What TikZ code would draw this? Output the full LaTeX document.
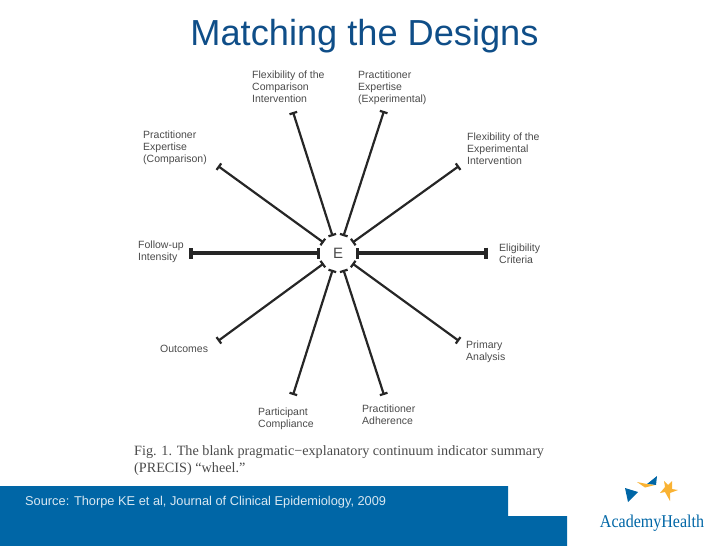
\documentclass[tikz,border=0pt]{standalone}
\usepackage{fontspec}
\setmainfont{Liberation Sans}
\newfontfamily\captionfont{Liberation Serif}
\newfontfamily\logofont[FakeStretch=0.89]{Liberation Serif}
\usetikzlibrary{arrows.meta}
\definecolor{ahblue}{HTML}{0066A6}
\definecolor{ahgold}{HTML}{F9B233}
\definecolor{titleblue}{HTML}{0F4E88}
\definecolor{labelgray}{HTML}{4A4A4A}
\tikzset{spoke/.style={line width=2.2pt,draw=black!85,{Bar[width=8pt,length=0.8pt]}-{Bar[width=8pt,length=0.8pt]},shorten <=-1pt}}
\tikzset{spokethick/.style={spoke,line width=3.6pt,{Bar[width=11pt,length=1pt]}-{Bar[width=11pt,length=1pt]}}}
\tikzset{spokelabel/.style={anchor=north west,align=left,inner sep=0pt,text=labelgray,
font=\fontsize{10.5}{12}\selectfont}}

\begin{document}
\begin{tikzpicture}[x=1pt,y=-1pt]
    \useasboundingbox (0,0) rectangle (728,546);

    \node[text=titleblue,font=\fontsize{36.2}{40}\selectfont,inner sep=0pt] (title) at (364.5,36) {Matching the Designs};

    % the wheel
    \node[circle,minimum size=37pt,inner sep=0pt,text=labelgray,font=\fontsize{15}{15}\selectfont] (hub) at (338,253) {E};

    \coordinate (flexcompend) at (293,112);
    \coordinate (pracexpend) at (384,111);
    \coordinate (flexexpend) at (459,166);
    \coordinate (eligend) at (488,253);
    \coordinate (primend) at (459,341);
    \coordinate (adhend) at (384,395);
    \coordinate (compend) at (293,395);
    \coordinate (outend) at (218,341);
    \coordinate (followend) at (189,253);
    \coordinate (praccompend) at (218,166);

    \draw[spoke] (hub) -- (flexcompend);
    \draw[spoke] (hub) -- (pracexpend);
    \draw[spoke] (hub) -- (flexexpend);
    \draw[spokethick] (hub) -- (eligend);
    \draw[spoke] (hub) -- (primend);
    \draw[spoke] (hub) -- (adhend);
    \draw[spoke] (hub) -- (compend);
    \draw[spoke] (hub) -- (outend);
    \draw[spokethick] (hub) -- (followend);
    \draw[spoke] (hub) -- (praccompend);

    \node[spokelabel] (flexcomp) at (252,71) {Flexibility of the\\Comparison\\Intervention};
    \node[spokelabel] (pracexp) at (358,71) {Practitioner\\Expertise\\(Experimental)};
    \node[spokelabel] (flexexp) at (467,133) {Flexibility of the\\Experimental\\Intervention};
    \node[spokelabel] (praccomp) at (143,131) {Practitioner\\Expertise\\(Comparison)};
    \node[spokelabel] (follow) at (138,241) {Follow-up\\Intensity};
    \node[spokelabel] (elig) at (499,244) {Eligibility\\Criteria};
    \node[spokelabel] (out) at (160,345) {Outcomes};
    \node[spokelabel] (prim) at (466,341) {Primary\\Analysis};
    \node[spokelabel] (comp) at (258,408) {Participant\\Compliance};
    \node[spokelabel] (adh) at (362,405) {Practitioner\\Adherence};

    \node[anchor=north west,align=left,inner sep=0pt,text=labelgray,
    font=\captionfont\fontsize{14.2}{17}\selectfont] (figcaption) at (134,445)
    {Fig. 1. The blank pragmatic−explanatory continuum indicator summary\\(PRECIS) “wheel.”};

    % footer band
    \fill[ahblue] (0,486) -- (508,486) -- (508,516) -- (567,516) -- (567,546) -- (0,546) -- cycle;
    \node[anchor=west,inner sep=0pt,text=white!85!ahblue,font=\fontsize{12.8}{14}\selectfont] (source) at (25,502)
    {Source: Thorpe KE et al, Journal of Clinical Epidemiology, 2009};

    % logo
    \fill[ahblue] (625,488) -- (638,492) -- (628,502) -- cycle;
    \fill[ahblue] (657,476) -- (656,485) -- (647,484) -- cycle;
    \fill[ahgold] (637,482) -- (647,484) -- (655,485) -- (645,487.5) -- cycle;
    \fill[ahgold] (664,481) -- (668,485) -- (672,481) -- (672,489) -- (678,490) -- (670,493) -- (670,501) -- (665,492) -- (660,493) -- (665,487) -- cycle;
    \node[text=ahblue,font=\logofont\fontsize{18}{20}\selectfont,inner sep=0pt] (logotext) at (652,523) {AcademyHealth};
\end{tikzpicture}
\end{document}
